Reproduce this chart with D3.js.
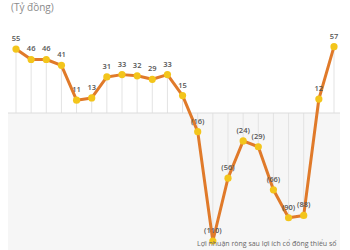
<!DOCTYPE html>
<html>
<head>
<meta charset="utf-8">
<script src="https://cdn.jsdelivr.net/npm/d3@7"></script>
<style>
  body { margin: 0; background: #fff; }
  svg { display: block; font-family: 'Open Sans', 'Noto Sans', sans-serif; }
</style>
</head>
<body>
<div id="vis"></div>
<script>
// Lợi nhuận ròng theo quý (tỷ đồng)
const periods = d3.range(22).map((i) => 'Q' + (i + 1));
const profit = [55, 46, 46, 41, 11, 13, 31, 33, 32, 29, 33, 15, -16, -110, -56, -24, -29, -66, -90, -88, 12, 57];

const WIDTH = 350;
const HEIGHT = 250;

const svg = d3.select('#vis').append('svg')
  .attr('width', WIDTH)
  .attr('height', HEIGHT);

const x = d3.scalePoint().domain(periods).range([16, 334]);
const y = d3.scaleLinear().domain([-110, 57]).range([241, 46.7]);

// nền xám phần âm
svg.append('rect')
  .attr('x', 8)
  .attr('y', y(0))
  .attr('width', 332)
  .attr('height', HEIGHT - y(0))
  .attr('fill', '#f6f6f6');

// đường kẻ dọc từ 0 đến điểm
svg.append('g')
  .selectAll('line')
  .data(profit)
  .join('line')
  .attr('x1', (d, i) => x(periods[i]))
  .attr('x2', (d, i) => x(periods[i]))
  .attr('y1', y(0))
  .attr('y2', (d) => y(d))
  .attr('stroke', '#e3e3e3')
  .attr('stroke-width', 1);

svg.append('line')
  .attr('x1', 8)
  .attr('x2', 340)
  .attr('y1', y(0))
  .attr('y2', y(0))
  .attr('stroke', '#dcdcdc')
  .attr('stroke-width', 1);

const line = d3.line()
  .x((d, i) => x(periods[i]))
  .y((d) => y(d));

svg.append('path')
  .datum(profit)
  .attr('d', line)
  .attr('fill', 'none')
  .attr('stroke', '#e07a2a')
  .attr('stroke-width', 3)
  .attr('stroke-linejoin', 'round');

svg.append('g')
  .selectAll('circle')
  .data(profit)
  .join('circle')
  .attr('cx', (d, i) => x(periods[i]))
  .attr('cy', (d) => y(d))
  .attr('r', 3.6)
  .attr('fill', '#f3c51b');

svg.append('g')
  .selectAll('text')
  .data(profit)
  .join('text')
  .attr('x', (d, i) => x(periods[i]))
  .attr('y', (d) => y(d) - 8)
  .attr('text-anchor', 'middle')
  .attr('font-size', 7.5)
  .attr('font-weight', 600)
  .attr('fill', '#555')
  .text((d) => (d < 0 ? '(' + Math.abs(d) + ')' : d));

svg.append('text')
  .attr('x', 11)
  .attr('y', 11)
  .attr('font-size', 10)
  .attr('fill', '#8a8a8a')
  .text('(Tỷ đồng)');

svg.append('text')
  .attr('x', 197)
  .attr('y', 246)
  .attr('font-size', 7)
  .attr('fill', '#666')
  .text('Lợi nhuận ròng sau lợi ích cổ đông thiểu số');
</script>
</body>
</html>
